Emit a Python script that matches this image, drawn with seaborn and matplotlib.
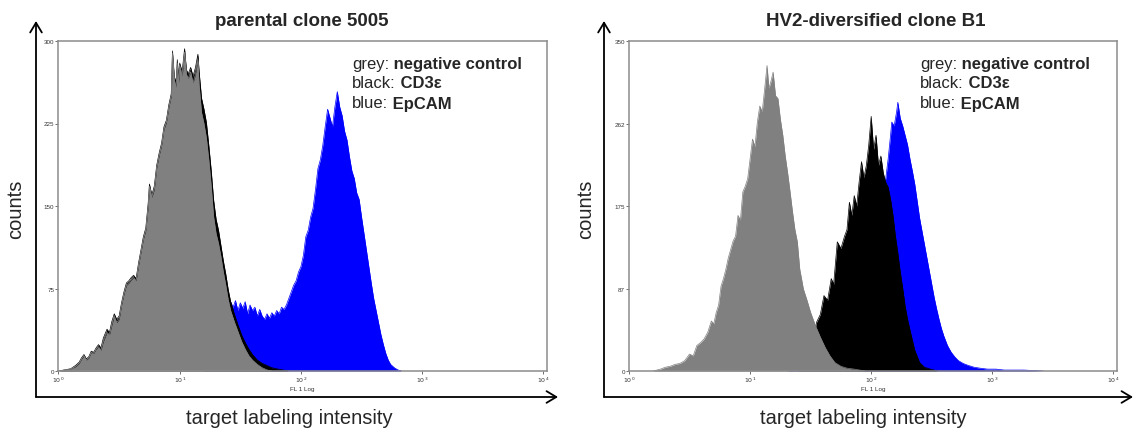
import matplotlib
matplotlib.use("Agg")
import matplotlib.pyplot as plt
from matplotlib.ticker import NullLocator
import pandas as pd
import seaborn as sns

# histogram outlines: x = log10(FL1 intensity), y = counts

# parental clone 5005
p_neg_x = [0.00, 0.05, 0.10, 0.14, 0.17, 0.19, 0.21, 0.23, 0.25, 0.27,
           0.29, 0.31, 0.33, 0.35, 0.37, 0.40, 0.42, 0.44, 0.46, 0.48,
           0.50, 0.52, 0.54, 0.56, 0.58, 0.60, 0.62, 0.64, 0.66, 0.68,
           0.70, 0.72, 0.74, 0.75, 0.77, 0.79, 0.81, 0.83, 0.85, 0.87,
           0.89, 0.91, 0.93, 0.94, 0.955, 0.97, 0.98, 0.99, 1.00, 1.02,
           1.04, 1.055, 1.07, 1.09, 1.11, 1.13, 1.15, 1.16, 1.18, 1.20,
           1.22, 1.24, 1.26, 1.28, 1.30, 1.32, 1.34, 1.36, 1.38, 1.40,
           1.42, 1.45, 1.48, 1.51, 1.54, 1.57, 1.60, 1.64, 1.68, 1.72, 1.76]
p_neg_y = [0, 1, 2, 4, 7, 11, 14, 10, 12, 17,
           16, 20, 22, 19, 27, 35, 33, 42, 50, 44,
           47, 60, 70, 78, 80, 83, 85, 82, 96, 108,
           120, 128, 150, 168, 158, 165, 185, 196, 205, 220,
           226, 240, 250, 289, 265, 258, 280, 262, 278, 268,
           290, 270, 266, 272, 262, 270, 283, 260, 235, 225,
           212, 192, 168, 140, 125, 116, 104, 90, 78, 65,
           55, 45, 36, 27, 20, 14, 10, 6, 3, 1, 0]

p_cd3_x = p_neg_x[:71] + [1.45, 1.48, 1.51, 1.54, 1.57, 1.60, 1.64, 1.68,
                          1.72, 1.76, 1.80, 1.85, 1.90]
p_cd3_y = [0, 1, 2, 5, 8, 12, 15, 11, 13, 18,
           17, 21, 24, 21, 30, 38, 35, 45, 52, 47,
           50, 62, 72, 80, 82, 85, 87, 84, 98, 110,
           122, 130, 153, 170, 160, 168, 187, 198, 207, 222,
           228, 242, 252, 291, 268, 262, 283, 266, 280, 272,
           293, 274, 270, 276, 268, 276, 288, 272, 248, 238,
           226, 205, 182, 155, 138, 128, 114, 100, 88, 74,
           63, 52, 42, 33, 26, 20, 15, 10, 7, 5, 3, 2, 1, 0]

p_ep_x = [1.20, 1.30, 1.38, 1.42, 1.44, 1.46, 1.48, 1.50, 1.52, 1.54,
          1.56, 1.58, 1.60, 1.62, 1.64, 1.66, 1.68, 1.70, 1.72, 1.74,
          1.76, 1.78, 1.80, 1.82, 1.84, 1.86, 1.88, 1.90, 1.92, 1.94,
          1.96, 1.98, 2.00, 2.02, 2.04, 2.06, 2.08, 2.10, 2.12, 2.14,
          2.16, 2.18, 2.20, 2.22, 2.24, 2.26, 2.28, 2.30, 2.32, 2.34,
          2.36, 2.38, 2.40, 2.42, 2.44, 2.46, 2.48, 2.50, 2.52, 2.54,
          2.56, 2.58, 2.60, 2.62, 2.64, 2.66, 2.68, 2.70, 2.72, 2.74,
          2.77, 2.80, 2.83]
p_ep_y = [0, 45, 55, 63, 58, 64, 55, 62, 57, 63,
          52, 60, 55, 58, 50, 56, 50, 47, 52, 48,
          53, 50, 55, 52, 58, 56, 60, 66, 72, 78,
          82, 90, 95, 105, 122, 128, 140, 148, 165, 184,
          192, 205, 222, 238, 230, 222, 240, 254, 240, 232,
          218, 210, 195, 182, 175, 162, 156, 140, 125, 110,
          95, 80, 66, 55, 44, 33, 24, 16, 10, 6,
          3, 1, 0]

# HV2-diversified clone B1
d_neg_x = [0.20, 0.26, 0.30, 0.34, 0.38, 0.42, 0.46, 0.50, 0.53, 0.56,
           0.59, 0.62, 0.65, 0.68, 0.70, 0.72, 0.74, 0.76, 0.78, 0.80,
           0.82, 0.84, 0.86, 0.88, 0.90, 0.92, 0.94, 0.96, 0.98, 1.00,
           1.02, 1.04, 1.06, 1.08, 1.10, 1.12, 1.14, 1.155, 1.17, 1.19,
           1.21, 1.23, 1.25, 1.27, 1.29, 1.31, 1.33, 1.35, 1.37, 1.39,
           1.41, 1.44, 1.47, 1.50, 1.54, 1.58, 1.62, 1.66, 1.70, 1.75,
           1.80, 1.86, 1.95]
d_neg_y = [0, 2, 4, 5, 7, 8, 11, 18, 16, 27,
           30, 34, 41, 53, 50, 62, 70, 90, 98, 108,
           120, 129, 138, 143, 165, 160, 190, 196, 204, 225,
           246, 238, 264, 281, 275, 299, 324, 300, 306, 317,
           292, 289, 267, 250, 228, 210, 190, 169, 150, 137,
           108, 87, 75, 62, 48, 36, 25, 16, 9, 5,
           3, 2, 0]

d_cd3_x = [1.40, 1.50, 1.55, 1.58, 1.61, 1.64, 1.67, 1.69, 1.72, 1.75,
           1.78, 1.80, 1.82, 1.84, 1.86, 1.88, 1.90, 1.92, 1.94, 1.96,
           1.98, 2.00, 2.02, 2.04, 2.06, 2.08, 2.10, 2.12, 2.14, 2.16,
           2.18, 2.20, 2.22, 2.24, 2.26, 2.28, 2.30, 2.33, 2.36, 2.40,
           2.44, 2.49, 2.55]
d_cd3_y = [0, 25, 52, 60, 80, 75, 98, 92, 137, 130,
           143, 150, 179, 165, 186, 175, 200, 222, 205, 218,
           240, 270, 235, 250, 218, 228, 210, 200, 195, 182,
           165, 143, 125, 105, 88, 69, 55, 38, 22, 9,
           4, 2, 0]

d_ep_x = [1.30, 1.50, 1.70, 1.85, 1.95, 2.05, 2.10, 2.12, 2.14, 2.16,
          2.17, 2.19, 2.21, 2.22, 2.24, 2.26, 2.28, 2.30, 2.32, 2.34,
          2.36, 2.38, 2.40, 2.42, 2.44, 2.46, 2.48, 2.50, 2.52, 2.54,
          2.56, 2.58, 2.60, 2.63, 2.66, 2.69, 2.72, 2.76, 2.80, 2.85,
          2.90, 2.96, 3.03, 3.10, 3.18, 3.26, 3.34, 3.42]
d_ep_y = [0, 10, 45, 110, 160, 185, 190, 204, 225, 250,
          264, 260, 275, 285, 268, 260, 250, 240, 225, 212,
          198, 180, 162, 148, 134, 120, 106, 92, 78, 66,
          55, 45, 37, 27, 20, 15, 11, 8, 6, 4,
          3, 2, 2, 1, 1, 1, 0.5, 0]

titles = ["parental clone 5005", "HV2-diversified clone B1"]
yticks_left = [0, 75, 150, 225, 300]
yticks_right = [0, 87, 175, 262, 350]
xticks = [1, 10, 100, 1000, 10000]
xticklabels = [r"$10^{0}$", r"$10^{1}$", r"$10^{2}$", r"$10^{3}$", r"$10^{4}$"]
legend_rows = [("grey:", "negative control"), ("black:", "CD3\u03b5"), ("blue:", "EpCAM")]
colors = {"EpCAM": "#0000ff", "CD3e": "#000000", "negative": "#808080"}


def make_df(neg_x, neg_y, cd3_x, cd3_y, ep_x, ep_y):
    parts = []
    for name, xs, ys in [("EpCAM", ep_x, ep_y), ("CD3e", cd3_x, cd3_y),
                         ("negative", neg_x, neg_y)]:
        assert len(xs) == len(ys), name
        parts.append(pd.DataFrame({"intensity": [10 ** v for v in xs],
                                   "counts": ys, "stain": name}))
    return pd.concat(parts, ignore_index=True)


panels = [
    dict(df=make_df(p_neg_x, p_neg_y, p_cd3_x, p_cd3_y, p_ep_x, p_ep_y),
         box=(58.5, 42, 547, 372), ymax=300, yticks=yticks_left,
         title=titles[0], tx=302, leg_x=352, counts_x=16, xlab_x=289,
         arrow_x=36, arrow_end=558),
    dict(df=make_df(d_neg_x, d_neg_y, d_cd3_x, d_cd3_y, d_ep_x, d_ep_y),
         box=(629, 42, 1117, 372), ymax=350, yticks=yticks_right,
         title=titles[1], tx=876, leg_x=920, counts_x=586, xlab_x=863,
         arrow_x=604, arrow_end=1133),
]

sns.set_style("ticks")
plt.rcParams['font.family'] = ['Liberation Sans', 'DejaVu Sans']

W, H = 1135, 431
fig = plt.figure(figsize=(W / 100, H / 100), dpi=100)

for p in panels:
    left, top, right, bottom = p["box"]
    ax = fig.add_axes([left / W, 1 - bottom / H, (right - left) / W, (bottom - top) / H])
    ax.set_xscale("log")
    df = p["df"]
    # blue under black under grey, each fill with its own outline
    for layer, stain in enumerate(["EpCAM", "CD3e", "negative"]):
        d = df[df["stain"] == stain]
        ax.fill_between(d["intensity"], d["counts"], color=colors[stain], lw=0,
                        zorder=2 + layer)
        sns.lineplot(data=d, x="intensity", y="counts", color=colors[stain],
                     lw=0.5, estimator=None, ax=ax, zorder=2.5 + layer)

    ax.set_xlim(1, 10 ** 4.03)
    ax.set_ylim(0, p["ymax"])
    ax.set_xticks(xticks)
    ax.set_xticklabels(xticklabels)
    ax.xaxis.set_minor_locator(NullLocator())
    ax.set_yticks(p["yticks"])
    ax.set_yticklabels([str(v) for v in p["yticks"]])
    ax.tick_params(labelsize=4.5, length=2, width=0.6, pad=1,
                   color="#555555", labelcolor="#333333")
    ax.set_xlabel("FL 1 Log", fontsize=4.5, labelpad=1, color="#333333")
    ax.set_ylabel("")
    for s in ax.spines.values():
        s.set_color("#8c8c8c")
        s.set_linewidth(1.1)
        s.set_zorder(6)

    fig.text(p["tx"] / W, 1 - 21 / H, p["title"], ha="center", va="center",
             fontsize=13.5, fontweight="bold")
    fig.text(p["counts_x"] / W, 1 - 209 / H, "counts", rotation=90,
             ha="center", va="center", fontsize=14.5)
    fig.text(p["xlab_x"] / W, 1 - 419 / H, "target labeling intensity",
             ha="center", va="center", fontsize=14.5)

    for i, (plain, bold) in enumerate(legend_rows):
        t = fig.text(p["leg_x"] / W, 1 - (64 + 20 * i) / H, plain,
                     fontsize=12, ha="left", va="center")
        ax.annotate(" " + bold, xy=(1, 0), xycoords=t, ha="left", va="bottom",
                    fontsize=12, fontweight="bold", annotation_clip=False)

    ax0 = p["arrow_x"]
    arrow = dict(arrowstyle="->,head_length=0.5,head_width=0.3", lw=1.3,
                 color="black", shrinkA=0, shrinkB=0, mutation_scale=14)
    ax.annotate("", xy=(ax0, H - 22), xytext=(ax0, H - 398),
                xycoords="figure pixels", textcoords="figure pixels",
                arrowprops=arrow, annotation_clip=False)
    ax.annotate("", xy=(p["arrow_end"], H - 398), xytext=(ax0, H - 398),
                xycoords="figure pixels", textcoords="figure pixels",
                arrowprops=arrow, annotation_clip=False)

fig.savefig("out.png", dpi=100)
